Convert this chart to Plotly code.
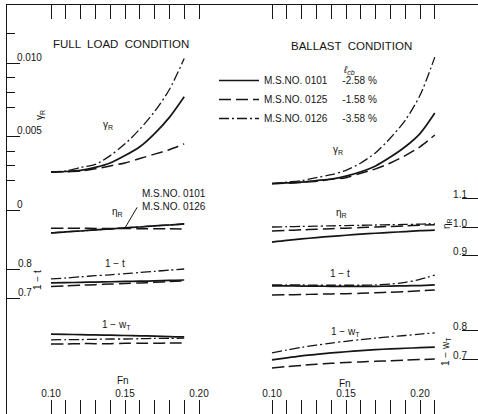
import plotly.graph_objects as go

W, H = 478, 414
INK = "#151515"

# ---------------- data ----------------
fn_full = [0.10, 0.11, 0.12, 0.13, 0.14, 0.15, 0.16, 0.17, 0.18, 0.19]
fn_ballast = [0.10, 0.11, 0.12, 0.13, 0.14, 0.15, 0.16, 0.17, 0.18, 0.19, 0.20, 0.21]

# Full load condition
gamma_full_0101 = [0.00258, 0.00262, 0.0027, 0.0029, 0.0032, 0.0037, 0.0043, 0.0052, 0.0063, 0.0077]
gamma_full_0125 = [0.00258, 0.0026, 0.00265, 0.0028, 0.0030, 0.0032, 0.0035, 0.0038, 0.0041, 0.0045]
gamma_full_0126 = [0.00258, 0.00266, 0.0029, 0.0031, 0.0037, 0.0045, 0.0055, 0.0067, 0.0082, 0.0103]

etar_full_0101 = [0.979, 0.983, 0.986, 0.990, 0.993, 0.997, 1.000, 1.004, 1.007, 1.011]
etar_full_0125 = [0.996, 0.996, 0.996, 0.995, 0.995, 0.995, 0.994, 0.994, 0.994, 0.993]
etar_full_0126 = [0.979, 0.983, 0.986, 0.990, 0.993, 0.997, 1.000, 1.004, 1.007, 1.011]

t_full_0101 = [0.752, 0.753, 0.754, 0.755, 0.756, 0.757, 0.758, 0.759, 0.761, 0.762]
t_full_0125 = [0.740, 0.742, 0.744, 0.746, 0.748, 0.750, 0.752, 0.754, 0.757, 0.759]
t_full_0126 = [0.766, 0.769, 0.773, 0.777, 0.780, 0.784, 0.788, 0.792, 0.796, 0.800]

w_full_0101 = [0.786, 0.785, 0.784, 0.783, 0.782, 0.781, 0.780, 0.779, 0.777, 0.776]
w_full_0125 = [0.752, 0.752, 0.753, 0.753, 0.753, 0.754, 0.754, 0.754, 0.755, 0.755]
w_full_0126 = [0.766, 0.767, 0.767, 0.768, 0.769, 0.769, 0.770, 0.771, 0.771, 0.772]

# Ballast condition
gamma_bal_0101 = [0.0018, 0.00185, 0.0019, 0.0020, 0.0021, 0.0023, 0.0026, 0.0030, 0.0036, 0.0043, 0.0052, 0.0066]
gamma_bal_0125 = [0.0018, 0.00182, 0.00188, 0.00195, 0.0021, 0.0022, 0.0025, 0.0028, 0.0032, 0.0037, 0.0043, 0.0051]
gamma_bal_0126 = [0.0018, 0.0019, 0.0020, 0.0022, 0.0024, 0.0027, 0.0032, 0.0039, 0.0049, 0.0061, 0.0078, 0.0104]

etar_bal_0101 = [0.947, 0.953, 0.958, 0.963, 0.967, 0.971, 0.975, 0.978, 0.981, 0.984, 0.987, 0.989]
etar_bal_0125 = [0.986, 0.988, 0.990, 0.992, 0.994, 0.996, 0.998, 1.000, 1.002, 1.004, 1.006, 1.008]
etar_bal_0126 = [1.000, 1.001, 1.002, 1.003, 1.004, 1.005, 1.006, 1.007, 1.008, 1.009, 1.010, 1.012]

t_bal_0101 = [0.742, 0.742, 0.741, 0.741, 0.740, 0.740, 0.740, 0.740, 0.741, 0.742, 0.743, 0.745]
t_bal_0125 = [0.710, 0.711, 0.712, 0.713, 0.714, 0.715, 0.716, 0.718, 0.720, 0.722, 0.725, 0.728]
t_bal_0126 = [0.745, 0.745, 0.745, 0.744, 0.744, 0.744, 0.744, 0.745, 0.748, 0.754, 0.764, 0.779]

w_bal_0101 = [0.697, 0.704, 0.711, 0.716, 0.721, 0.725, 0.729, 0.732, 0.735, 0.737, 0.739, 0.741]
w_bal_0125 = [0.669, 0.674, 0.678, 0.682, 0.685, 0.688, 0.690, 0.692, 0.694, 0.696, 0.698, 0.700]
w_bal_0126 = [0.721, 0.731, 0.740, 0.748, 0.755, 0.761, 0.767, 0.772, 0.777, 0.781, 0.786, 0.790]

models = ["0101", "0125", "0126"]
lcb_labels = ["-2.58 %", "-1.58 %", "-3.58 %"]

fn_ticks = [0.10, 0.15, 0.20]
fn_ticktext = ["0.10", "0.15", "0.20"]
fn_minor_full = [0.11, 0.12, 0.13, 0.14, 0.16, 0.17, 0.18, 0.19]
fn_minor_bal = [0.11, 0.12, 0.13, 0.14, 0.16, 0.17, 0.18, 0.19, 0.21]
gamma_ticks = [0.0, 0.005, 0.010]
gamma_ticktext = ["0", "0.005", "0.010"]
gamma_minor = [0.002, 0.003, 0.004, 0.007, 0.008, 0.009, 0.012]
etar_ticks = [0.9, 1.0, 1.1]
etar_ticktext = ["0.9", "1.0", "1.1"]
t_ticks = [0.7, 0.8]
t_ticktext = ["0.7", "0.8"]
w_ticks = [0.6, 0.7, 0.8]
w_ticktext = ["0.6", "0.7", "0.8"]

# ---------------- styling ----------------
DASH = {"0101": "solid", "0125": "12px,5px", "0126": "10px,3px,2px,3px"}
WIDTH = {"0101": 1.7, "0125": 1.5, "0126": 1.3}


def px(x):
    return x / W


def py(y):
    return 1 - y / H


fig = go.Figure()

panels = [
    ("x", fn_full, {
        "y": [gamma_full_0101, gamma_full_0125, gamma_full_0126],
        "y2": [etar_full_0101, etar_full_0125, etar_full_0126],
        "y3": [t_full_0101, t_full_0125, t_full_0126],
        "y4": [w_full_0101, w_full_0125, w_full_0126],
    }),
    ("x2", fn_ballast, {
        "y": [gamma_bal_0101, gamma_bal_0125, gamma_bal_0126],
        "y2": [etar_bal_0101, etar_bal_0125, etar_bal_0126],
        "y3": [t_bal_0101, t_bal_0125, t_bal_0126],
        "y4": [w_bal_0101, w_bal_0125, w_bal_0126],
    }),
]

shown = set()
for xa, fn, groups in panels:
    for ya, series in groups.items():
        for m, lab, vals in zip(models, lcb_labels, series):
            fig.add_trace(go.Scatter(
                x=fn, y=vals, xaxis=xa, yaxis=ya, mode="lines",
                line=dict(color=INK, width=WIDTH[m], dash=DASH[m], shape="spline", smoothing=0.8),
                name="M.S.NO. " + m + "\u2003\u2002" + lab,
                legendgroup=m, showlegend=(m not in shown), hoverinfo="skip",
            ))
            shown.add(m)

# axis ranges mapped from the picture's scale
TOP = 5
ydom = [0, 1 - TOP / H]


def yrange(v0, p0, scale):
    # value v0 at pixel p0, scale = px per unit
    return [v0 - (H - p0) / scale, v0 + (p0 - TOP) / scale]


def xrange_(p0, x0, x1):
    return [0.10 - (p0 - x0) / 1480, 0.10 + (x1 - p0) / 1480]


tickfont = dict(family="Liberation Sans, Arial, sans-serif", size=10, color=INK)

common_x = dict(
    tickmode="array", tickvals=fn_ticks, ticktext=fn_ticktext,
    ticks="inside", ticklen=14, tickwidth=1.4, tickcolor=INK,
    showline=True, linecolor=INK, linewidth=1.4, mirror="allticks",
    ticklabelposition="inside", tickfont=tickfont,
    showgrid=False, zeroline=False, anchor="y",
)

left_y = dict(ticks="inside", ticklen=13, tickwidth=1.3, tickcolor=INK,
              ticklabelposition="inside top", tickfont=tickfont,
              ticklabelstandoff=8, ticklabelshift=2,
              showgrid=False, zeroline=False)
right_y = dict(ticks="inside", ticklen=16, tickwidth=1.3, tickcolor=INK,
               ticklabelposition="inside top", tickfont=tickfont,
               ticklabelstandoff=8, ticklabelshift=4,
               showline=False, showgrid=False, zeroline=False, side="right")

fig.update_layout(
    xaxis=dict(domain=[px(7), px(236)], range=xrange_(51, 7, 236),
               minor=dict(tickmode="array", tickvals=fn_minor_full, ticks="inside",
                          ticklen=7, tickwidth=1.2, tickcolor=INK, showgrid=False),
               **common_x),
    xaxis2=dict(domain=[px(236), 1], range=xrange_(272, 236, 478),
                minor=dict(tickmode="array", tickvals=fn_minor_bal, ticks="inside",
                           ticklen=7, tickwidth=1.2, tickcolor=INK, showgrid=False),
                **common_x),
    yaxis=dict(domain=ydom, range=yrange(0.0, 210, 14700), anchor="x",
               tickmode="array", tickvals=gamma_ticks, ticktext=gamma_ticktext,
               minor=dict(tickmode="array", tickvals=gamma_minor, ticks="inside",
                          ticklen=8, tickwidth=1.2, tickcolor=INK, showgrid=False),
               showline=True, linecolor=INK, linewidth=1.4, **left_y),
    yaxis2=dict(domain=ydom, range=yrange(1.0, 227, 285), anchor="x2", overlaying="y",
                tickmode="array", tickvals=etar_ticks, ticktext=etar_ticktext, **right_y),
    yaxis3=dict(domain=ydom, range=yrange(0.7, 298, 290), anchor="x", overlaying="y",
                side="left", tickmode="array", tickvals=t_ticks, ticktext=t_ticktext,
                showline=False, **left_y),
    yaxis4=dict(domain=ydom, range=yrange(0.7, 359, 290), anchor="x2", overlaying="y",
                tickmode="array", tickvals=w_ticks, ticktext=w_ticktext, **right_y),
)

ann = []


def text(t, x, y, size=10, angle=0, xanchor="center", align="center"):
    ann.append(dict(text=t, x=px(x), y=py(y), xref="paper", yref="paper",
                    showarrow=False, textangle=angle, xanchor=xanchor, yanchor="middle",
                    align=align, font=dict(size=size, color=INK)))


text("FULL  LOAD  CONDITION", 121, 44, size=11.5)
text("BALLAST  CONDITION", 351, 46, size=11.5)
text("<i>ℓ<sub>cb</sub></i>", 349, 70, size=10)
# panel curve labels
text("γ<sub>R</sub>", 108, 125, size=10)
text("γ<sub>R</sub>", 338, 150, size=10)
text("η<sub>R</sub>", 117, 212, size=10)
text("η<sub>R</sub>", 341, 213, size=10)
text("1 − t", 115, 263, size=10)
text("1 − t", 340, 273, size=10)
text("1 − w<sub>T</sub>", 116, 325, size=10)
text("1 − w<sub>T</sub>", 345, 332, size=10)
text("Fn", 123, 380, size=10)
text("Fn", 345, 383, size=10)
# rotated axis labels
text("γ<sub>R</sub>", 40, 115, size=10, angle=-90)
text("1 − t", 37, 280, size=10, angle=-90)
text("η<sub>R</sub>", 447, 224, size=10, angle=-90)
text("1 − w<sub>T</sub>", 446, 352, size=10, angle=-90)
# callout
text("M.S.NO. 0101<br>M.S.NO. 0126", 140, 200, size=10, xanchor="left", align="left")
ann.append(dict(text="", x=0.150, y=0.997, xref="x", yref="y2", showarrow=True,
                arrowhead=0, arrowwidth=1, arrowcolor=INK, ax=13, ay=-22))

fig.update_layout(
    width=W, height=H, margin=dict(l=0, r=0, t=0, b=0),
    paper_bgcolor="white", plot_bgcolor="white",
    font=dict(family="Liberation Sans, Arial, sans-serif", size=10, color=INK),
    showlegend=True,
    legend=dict(x=px(214), y=py(66), xanchor="left", yanchor="top",
                bgcolor="rgba(0,0,0,0)", tracegroupgap=0, itemwidth=40,
                font=dict(size=10, color=INK)),
    annotations=ann,
)

fig.write_html("out.html")
